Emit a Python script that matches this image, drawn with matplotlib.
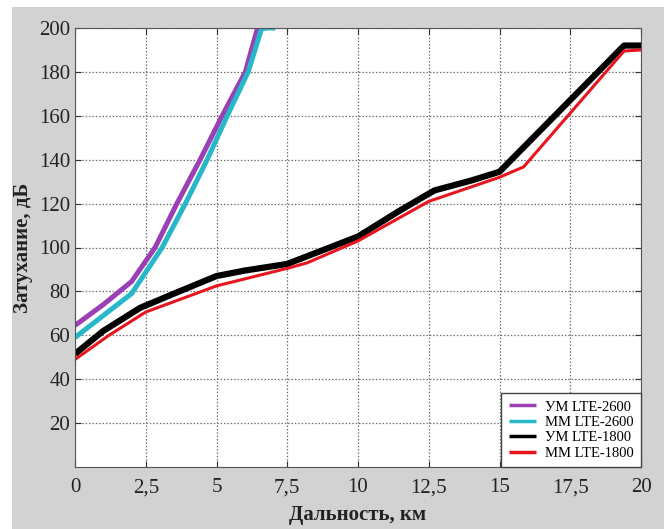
import matplotlib
matplotlib.use("Agg")
import matplotlib.pyplot as plt
from matplotlib.patches import Rectangle

# УМ LTE-2600
um2600_x = [0, 1.0, 2.0, 2.83, 3.6, 4.42, 5.2, 6.02, 6.45, 6.75]
um2600_y = [64.5, 74, 84.5, 100, 120, 140, 160, 180, 200, 200]
# ММ LTE-2600
mm2600_x = [0, 1.0, 2.0, 3.08, 3.9, 4.67, 5.38, 6.12, 6.6, 7.08]
mm2600_y = [59, 69, 79, 100, 120, 140, 160, 180, 200, 200]
# УМ LTE-1800
um1800_x = [0, 1.0, 2.3, 3.5, 5.0, 6.0, 7.5, 8.5, 10.0, 11.5, 12.7, 14.0, 15.0, 19.4, 20.0]
um1800_y = [51.5, 62, 72.5, 79, 87, 89.5, 92.5, 97.5, 105, 117, 126, 130.5, 134.5, 192, 192]
# ММ LTE-1800
mm1800_x = [0, 1.2, 2.5, 5.0, 7.5, 8.2, 10.0, 12.5, 15.0, 15.85, 19.4, 20.0]
mm1800_y = [49, 60, 70.6, 82.5, 90.5, 93, 103, 121, 132, 136.7, 189.5, 190]

xticks = [0, 2.5, 5, 7.5, 10, 12.5, 15, 17.5, 20]
xtick_labels = ["0", "2,5", "5", "7,5", "10", "12,5", "15", "17,5", "20"]
yticks = [20, 40, 60, 80, 100, 120, 140, 160, 180, 200]

plt.rcParams['font.family'] = ['Liberation Serif', 'DejaVu Serif']

fig = plt.figure(figsize=(6.64, 5.29), dpi=100, facecolor='white')
# серый фон как на скриншоте
fig.patches.append(Rectangle((12 / 664, 0), 1, 1 - 7 / 529, transform=fig.transFigure,
                             facecolor='#d2d2d2', edgecolor='none', zorder=-10))

ax = fig.add_axes([75 / 664, 62 / 529, 566 / 664, 439 / 529])
ax.set_facecolor('white')

ax.plot(um2600_x, um2600_y, color='#9b3fb5', lw=3.6, label='УМ LTE-2600', solid_capstyle='butt')
ax.plot(mm2600_x, mm2600_y, color='#26b8c8', lw=3.6, label='ММ LTE-2600', solid_capstyle='butt')
ax.plot(um1800_x, um1800_y, color='black', lw=4.5, label='УМ LTE-1800', solid_capstyle='butt')
ax.plot(mm1800_x, mm1800_y, color='#e8141e', lw=2.2, label='ММ LTE-1800', solid_capstyle='butt')

ax.set_xlim(0, 20)
ax.set_ylim(0, 200)
ax.set_xticks(xticks)
ax.set_xticklabels(xtick_labels)
ax.set_yticks(yticks)
ax.grid(True, linestyle=(0, (1.2, 1.5)), color='#707070', lw=0.9)
ax.tick_params(direction='in', top=True, right=True, labelsize=15, length=4, colors='#333333',
               labelcolor='#222222')
ax.tick_params(axis='x', pad=8)
for s in ax.spines.values():
    s.set_color('#555555')

ax.set_xlabel('Дальность, км', fontsize=15, fontweight='bold', color='#222222', labelpad=6)
ax.set_ylabel('Затухание, дБ', fontsize=15, fontweight='bold', color='#222222', labelpad=4)

leg = ax.legend(loc='lower right', borderaxespad=0, fancybox=False, fontsize=10.5,
                handlelength=1.9, labelspacing=0.15, handletextpad=0.6, borderpad=0.5,
                edgecolor='#444444', framealpha=1)
leg.get_frame().set_linewidth(1.0)
for h in leg.get_lines():
    h.set_linewidth(2.5)

fig.savefig('out.png', dpi=100, facecolor=fig.get_facecolor())
